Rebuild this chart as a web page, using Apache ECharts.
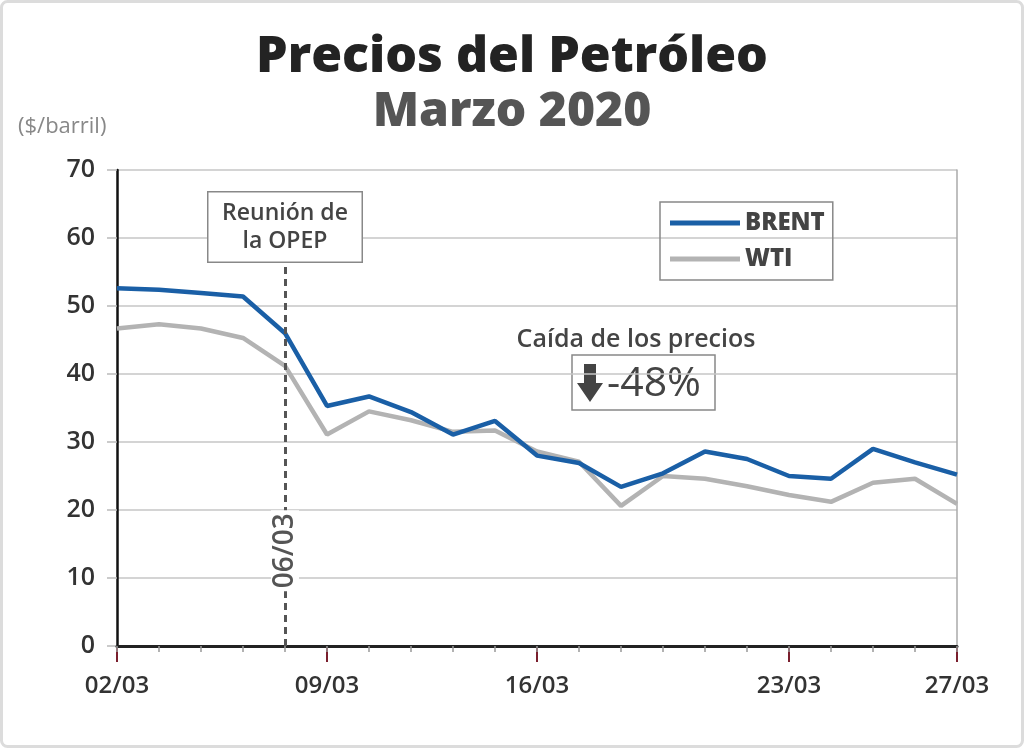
<!DOCTYPE html>
<html>
<head>
<meta charset="utf-8">
<script src="https://cdn.jsdelivr.net/npm/echarts@6/dist/echarts.min.js"></script>
<style>
html,body{margin:0;padding:0;background:#fff;}
#chart{width:1024px;height:748px;}
</style>
</head>
<body>
<div id="chart"></div>
<script>
// Trading days, March 2020
const categories = ["02/03","03/03","04/03","05/03","06/03","09/03","10/03","11/03","12/03","13/03",
  "16/03","17/03","18/03","19/03","20/03","21/03","23/03","24/03","25/03","26/03","27/03"];
const labelledDates = ["02/03","09/03","16/03","23/03","27/03"];
const brent = [52.6,52.4,51.9,51.4,46.0,35.3,36.7,34.4,31.1,33.1,28.0,26.9,23.4,25.4,28.6,27.5,25.0,24.6,29.0,27.0,25.2];
const wti   = [46.7,47.3,46.7,45.3,41.2,31.1,34.5,33.2,31.5,31.7,28.6,27.1,20.6,25.0,24.6,23.5,22.2,21.2,24.0,24.6,20.9];
const yTicks = [0,10,20,30,40,50,60,70];
const opecDate = "06/03";

const FONT = "Open Sans";
const chart = echarts.init(document.getElementById('chart'));
const isLabelled = (i) => labelledDates.indexOf(categories[i]) >= 0;

chart.setOption({
  animation: false,
  backgroundColor: '#ffffff',
  textStyle: { fontFamily: FONT },
  title: [
    { text: 'Precios del Petróleo', left: 'center', top: 28,
      textStyle: { fontFamily: FONT, fontSize: 50, fontWeight: 800, color: '#232323' } },
    { text: 'Marzo 2020', left: 'center', top: 83,
      textStyle: { fontFamily: FONT, fontSize: 48, fontWeight: 800, color: '#555555' } }
  ],
  legend: {
    data: ['BRENT','WTI'],
    orient: 'vertical',
    left: 660, top: 202,
    padding: [9, 8, 9, 10],
    itemGap: 12,
    itemWidth: 70, itemHeight: 5,
    icon: 'rect',
    borderColor: '#888', borderWidth: 1.5,
    textStyle: { fontFamily: FONT, fontSize: 24, fontWeight: 800, color: '#444', lineHeight: 24 }
  },
  grid: { left: 117, right: 67, top: 170, bottom: 102, containLabel: false },
  xAxis: [
    { type: 'category', data: categories, boundaryGap: false,
      axisLine: { show: true, lineStyle: { color: '#222', width: 3 } },
      axisTick: { show: true, interval: 0, length: 6, lineStyle: { color: '#999', width: 1.5 } },
      axisLabel: { show: false }, splitLine: { show: false }, z: 3 },
    { type: 'category', data: categories, boundaryGap: false, position: 'bottom',
      axisLine: { show: false },
      axisTick: { show: true, interval: (i) => isLabelled(i), length: 16, lineStyle: { color: '#7a1f2e', width: 2 } },
      axisLabel: { show: true, interval: (i) => isLabelled(i), margin: 28,
        fontFamily: FONT, fontSize: 24, fontWeight: 600, color: '#333' },
      splitLine: { show: false } }
  ],
  yAxis: [
    { type: 'value', min: 0, max: 70, interval: 10,
      axisLine: { show: true, lineStyle: { color: '#111', width: 2.5 } },
      axisTick: { show: true, length: 10, lineStyle: { color: '#bbb', width: 1.5 } },
      axisLabel: { margin: 22, fontFamily: FONT, fontSize: 25, fontWeight: 600, color: '#333',
        formatter: (v) => yTicks.indexOf(v) >= 0 ? String(v) : '' },
      splitLine: { show: true, lineStyle: { color: '#c6c6c6', width: 1.5 } } },
    { type: 'value', min: 0, max: 70, interval: 10, position: 'right',
      axisLine: { show: true, lineStyle: { color: '#aaa', width: 1.5 } },
      axisTick: { show: false }, axisLabel: { show: false }, splitLine: { show: false } }
  ],
  series: [
    { name: 'BRENT', type: 'line', data: brent, symbol: 'none', z: 4,
      lineStyle: { color: '#1a5fa6', width: 4.5 }, itemStyle: { color: '#1a5fa6' },
      markLine: {
        silent: true, symbol: 'none',
        lineStyle: { color: '#555', type: [7, 5], width: 3 },
        label: { show: false },
        data: [[ { coord: [opecDate, 0] }, { coord: [opecDate, 56.5] } ]]
      },
      markPoint: {
        silent: true,
        data: [
          { coord: [opecDate, 61.6], symbol: 'rect', symbolSize: 0,
            label: { show: true, position: 'inside', formatter: 'Reunión de\nla OPEP',
              fontFamily: FONT, fontSize: 23, fontWeight: 600, color: '#444', lineHeight: 28,
              align: 'center', verticalAlign: 'middle',
              backgroundColor: '#fff', borderColor: '#888', borderWidth: 1.5,
              padding: [6, 8, 7, 8], width: 137 } },
          { coord: [opecDate, 14], symbol: 'rect', symbolSize: 0,
            label: { show: true, position: 'inside', formatter: opecDate, rotate: 90,
              fontFamily: FONT, fontSize: 28, fontWeight: 600, color: '#555',
              backgroundColor: '#fff', padding: [0, 3, 0, 3] } }
        ]
      }
    },
    { name: 'WTI', type: 'line', data: wti, symbol: 'none', z: 3,
      lineStyle: { color: '#b3b3b3', width: 4.5 }, itemStyle: { color: '#b3b3b3' } }
  ],
  graphic: [
    { type: 'rect', silent: true, z: 100,
      shape: { x: 1.5, y: 1.5, width: 1021, height: 745, r: 6 },
      style: { fill: 'none', stroke: '#dcdcdc', lineWidth: 3 } },
    { type: 'text', left: 18, top: 116, z: 50,
      style: { text: '($/barril)', fontFamily: FONT, fontSize: 22, fill: '#888' } },
    { type: 'text', x: 636, y: 340, z: 50,
      style: { text: 'Caída de los precios', fontFamily: FONT, fontSize: 25, fontWeight: 600,
        fill: '#444', align: 'center', verticalAlign: 'middle' } },
    { type: 'group', z: 50, children: [
      { type: 'rect', shape: { x: 572, y: 355, width: 143, height: 55 },
        style: { fill: '#fff', stroke: '#888', lineWidth: 1.5 } },
      { type: 'polygon', shape: { points: [[584,364],[596,364],[596,383],[603,383],[590,402],[577,383],[584,383]] },
        style: { fill: '#444' } },
      { type: 'text', x: 607, y: 384,
        style: { text: '-48%', fontFamily: FONT, fontSize: 41, fontWeight: 'normal', fill: '#444',
          align: 'left', verticalAlign: 'middle' } }
    ] }
  ]
});
</script>
</body>
</html>
